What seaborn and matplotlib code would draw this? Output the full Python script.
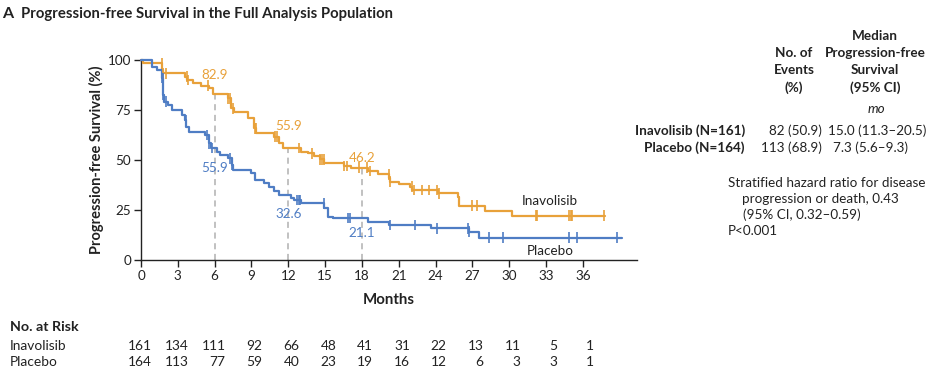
import numpy as np
import pandas as pd
import matplotlib
matplotlib.use("Agg")
import matplotlib.pyplot as plt
import seaborn as sns

# ---------------- data ----------------
arms = ["Inavolisib", "Placebo"]

inav_t = [0, 0.2, 1.7, 1.8, 3.6, 3.75, 4.2, 4.9, 5.5, 5.9,
          7.1, 7.3, 7.6, 8.75, 9.2, 9.4, 10.8, 11.2, 11.6, 13.0,
          13.6, 14.1, 14.6, 14.9, 16.5, 17.1, 18.5, 19.3, 20.2, 20.3,
          21.0, 21.9, 22.1, 24.2, 25.8, 25.9, 28.0, 30.2, 37.8]
inav_s = [100, 98.5, 95, 93.3, 91.7, 90, 88.3, 87.2, 85.8, 82.9,
          80.8, 75.8, 74.2, 70.8, 65.8, 63.7, 61.7, 58.3, 55.9, 54.2,
          53.3, 52, 50.3, 48.7, 47, 46.2, 44.5, 42.8, 40.8, 39.2,
          38, 36.7, 35, 33.3, 31.7, 27.2, 24.5, 22.2, 22.2]
inav_cens = [1.69, 1.82, 2.04, 3.72, 3.86, 5.49, 7.12, 7.26, 7.48, 9.25,
             9.38, 10.93, 11.07, 12.83, 13.92, 14.6, 14.74, 14.87, 16.5, 16.78,
             17.72, 18.4, 18.68, 20.17, 20.31, 22.08, 22.2, 22.9, 23.43, 24.12,
             24.25, 26.97, 27.38, 32.14, 32.27, 34.85, 34.99, 35.12, 37.7]

plac_t = [0, 0.9, 1.3, 1.7, 1.8, 1.9, 2.2, 2.5, 3.3, 3.6,
          3.7, 3.9, 5.2, 5.5, 5.7, 6.2, 6.45, 7.1, 7.4, 7.5,
          9.0, 9.3, 10.0, 10.4, 10.8, 11.2, 12.2, 12.5, 13.0, 14.9,
          15.2, 15.6, 18.5, 20.2, 23.6, 26.7, 27.5, 39.2]
plac_s = [100, 96.7, 95, 91, 82.5, 79.2, 77.5, 75, 72.5, 70,
          66.7, 64.2, 62.5, 58.3, 55.9, 54.2, 52.5, 50.8, 47.5, 45,
          43.3, 40, 38.3, 36.7, 34.7, 32.6, 31.2, 30, 28.3, 25.8,
          21.7, 21.1, 18.8, 17.5, 15.8, 14.2, 11.2, 11.2]
plac_cens = [1.72, 1.76, 1.8, 2.04, 3.65, 5.4, 5.5, 5.8, 7.26, 7.4,
             12.7, 12.83, 12.95, 14.87, 16.9, 17.05, 20.25, 22.35, 24.12, 26.64,
             26.7, 28.38, 29.47, 34.85, 35.53, 38.8]

landmark_months = [6, 12, 18]
inav_landmark = [82.9, 55.9, 46.2]
plac_landmark = [55.9, 32.6, 21.1]

risk_months = [0, 3, 6, 9, 12, 15, 18, 21, 24, 27, 30, 33, 36]
inav_risk = [161, 134, 111, 92, 66, 48, 41, 31, 22, 13, 11, 5, 1]
plac_risk = [164, 113, 77, 59, 40, 23, 19, 16, 12, 6, 3, 3, 1]

table_rows = ["Inavolisib (N=161)", "Placebo (N=164)"]
table_events = ["82 (50.9)", "113 (68.9)"]
table_median = ["15.0 (11.3\u201320.5)", "7.3 (5.6\u20139.3)"]
events_header = ["No. of", "Events", "(%)"]
median_header = ["Median", "Progression-free", "Survival", "(95% CI)"]
hr_lines = ["Stratified hazard ratio for disease", "progression or death, 0.43",
            "(95% CI, 0.32\u20130.59)", "P<0.001"]

# ---------------- style ----------------
sns.set_theme(style="ticks")
plt.rcParams["font.family"] = ["Lato", "DejaVu Sans"]
ORANGE = "#E8A13A"
BLUE = "#4F7DC4"
DARK = "#222222"
palette = {"Inavolisib": ORANGE, "Placebo": BLUE}

curves = pd.concat([
    pd.DataFrame({"month": inav_t, "pfs": inav_s, "arm": "Inavolisib"}),
    pd.DataFrame({"month": plac_t, "pfs": plac_s, "arm": "Placebo"}),
], ignore_index=True)


def step_value(tt, ss, x):
    idx = np.searchsorted(np.asarray(tt), x, side="right") - 1
    return np.asarray(ss)[idx]


cens = pd.concat([
    pd.DataFrame({"month": inav_cens, "pfs": step_value(inav_t, inav_s, inav_cens), "arm": "Inavolisib"}),
    pd.DataFrame({"month": plac_cens, "pfs": step_value(plac_t, plac_s, plac_cens), "arm": "Placebo"}),
], ignore_index=True)

W, H = 940, 379
fig = plt.figure(figsize=(W / 100, H / 100), dpi=100)
ax = fig.add_axes([141 / W, 1 - 260 / H, (637 - 141) / W, 200 / H])


def fx(x):
    return x / W


def fy(y):
    return 1 - y / H


# landmark dashed lines
ax.vlines(landmark_months, 0, inav_landmark, colors="#b0b0b0", linestyles=(0, (4, 3)), linewidth=1.1, zorder=1)

sns.lineplot(data=curves, x="month", y="pfs", hue="arm", palette=palette,
             drawstyle="steps-post", estimator=None, sort=False,
             linewidth=1.6, legend=False, ax=ax, zorder=3, clip_on=False)
sns.scatterplot(data=cens, x="month", y="pfs", hue="arm", palette=palette,
                marker="|", s=55, linewidth=1.2, legend=False, ax=ax, zorder=4, clip_on=False)

LF = 9.7
# landmark labels
inav_off = [9.6, 11.0, 4.6]
plac_off = [-10.0, -9.6, -7.4]
for m, v, o in zip(landmark_months, inav_landmark, inav_off):
    ax.text(m, v + o, f"{v:.1f}", color=ORANGE, fontsize=LF, ha="center", va="center")
for m, v, o in zip(landmark_months, plac_landmark, plac_off):
    ax.text(m, v + o, f"{v:.1f}", color=BLUE, fontsize=LF, ha="center", va="center")

ax.text(33.3, 29.5, arms[0], color=DARK, fontsize=LF, ha="center", va="center")
ax.text(33.3, 4.7, arms[1], color=DARK, fontsize=LF, ha="center", va="center")

ax.set_xlim(0, 40.4)
ax.set_ylim(0, 100)
ax.set_xticks(risk_months)
ax.set_yticks([0, 25, 50, 75, 100])
ax.tick_params(axis="both", direction="out", length=5, width=1, color=DARK,
               labelsize=LF, labelcolor=DARK, pad=2)
for side in ["left", "bottom"]:
    ax.spines[side].set_color(DARK)
    ax.spines[side].set_linewidth(1)
sns.despine(ax=ax)
ax.set_xlabel("Months", fontsize=10.8, fontweight="bold", color=DARK, labelpad=8)
ax.set_ylabel("Progression-free Survival (%)", fontsize=10.5, fontweight="bold", color=DARK, labelpad=3)

# title
fig.text(fx(2), fy(14), "A", fontsize=11.5, fontweight="bold", color=DARK, va="center", ha="left")
fig.text(fx(21), fy(14), "Progression-free Survival in the Full Analysis Population",
         fontsize=10.7, fontweight="bold", color=DARK, va="center", ha="left")

# right table
fs = 9.7
for line, yy in zip(events_header, [53, 70, 88]):
    fig.text(fx(794), fy(yy), line, fontsize=fs, fontweight="bold", color=DARK, ha="center", va="center")
for line, yy in zip(median_header, [36, 53, 70, 88]):
    fig.text(fx(875), fy(yy), line, fontsize=fs, fontweight="bold", color=DARK, ha="center", va="center")
fig.text(fx(876), fy(109), "mo", fontsize=fs, style="italic", color=DARK, ha="center", va="center")
row_y = [131, 148]
median_x = [828, 833]
for lbl, ev, med, yy, mx in zip(table_rows, table_events, table_median, row_y, median_x):
    fig.text(fx(745), fy(yy), lbl, fontsize=fs, fontweight="bold", color=DARK, ha="right", va="center")
    fig.text(fx(822), fy(yy), ev, fontsize=fs, color=DARK, ha="right", va="center")
    fig.text(fx(mx), fy(yy), med, fontsize=fs, color=DARK, ha="left", va="center")

for line, xx, yy in zip(hr_lines, [728, 742, 743, 728], [183, 199, 215, 231]):
    fig.text(fx(xx), fy(yy), line, fontsize=fs, color=DARK, ha="left", va="center")

# number at risk
fig.text(fx(10), fy(327), "No. at Risk", fontsize=10.3, fontweight="bold", color=DARK, ha="left", va="center")
fig.text(fx(10), fy(346), arms[0], fontsize=9.9, color=DARK, ha="left", va="center")
fig.text(fx(10), fy(362), arms[1], fontsize=9.9, color=DARK, ha="left", va="center")
trans = matplotlib.transforms.blended_transform_factory(ax.transData, fig.transFigure)
for m, a, b in zip(risk_months, inav_risk, plac_risk):
    fig.text(m + 0.9, fy(346), str(a), fontsize=9.9, color=DARK, ha="right", va="center", transform=trans)
    fig.text(m + 0.9, fy(362), str(b), fontsize=9.9, color=DARK, ha="right", va="center", transform=trans)

fig.savefig("out.png", dpi=100, facecolor="white")
